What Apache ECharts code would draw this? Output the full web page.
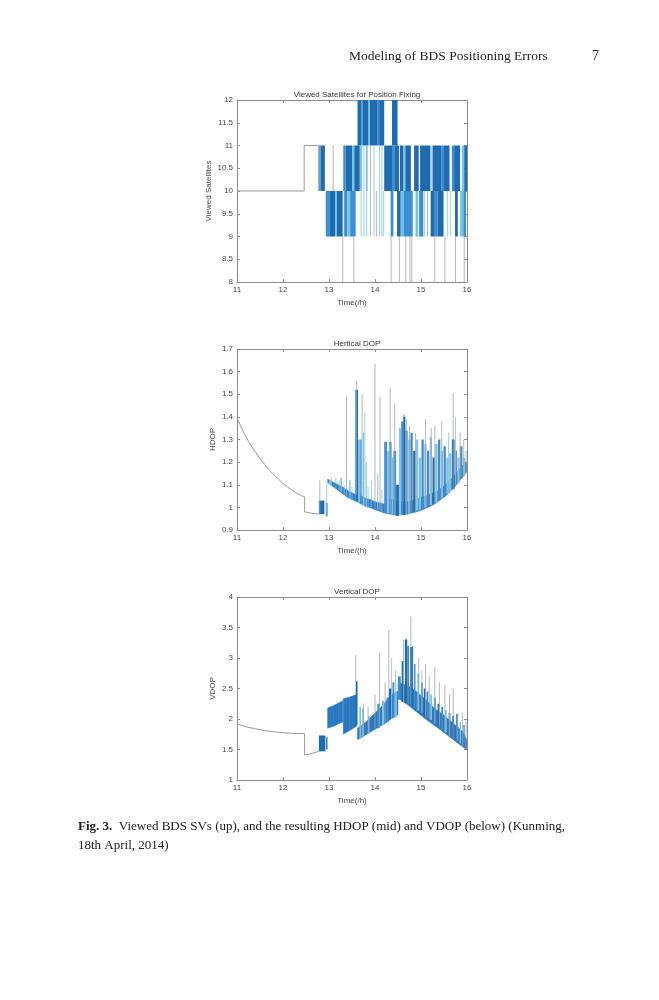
<!DOCTYPE html>
<html>
<head>
<meta charset="utf-8">
<title>Viewed BDS SVs, HDOP and VDOP</title>
<script src="https://cdn.jsdelivr.net/npm/echarts@6/dist/echarts.min.js"></script>
<style>
  html, body { margin: 0; padding: 0; background: #fff; }
  #chart { width: 659px; height: 1000px; }
</style>
</head>
<body>
<div id="chart"></div>
<script>
// tick labels
const timeTicks = [11, 12, 13, 14, 15, 16];
const satTicks = [8, 8.5, 9, 9.5, 10, 10.5, 11, 11.5, 12];
const hdopTicks = [0.9, 1, 1.1, 1.2, 1.3, 1.4, 1.5, 1.6, 1.7];
const vdopTicks = [1, 1.5, 2, 2.5, 3, 3.5, 4];

// shades: 0 dark blue, 1 blue, 2 light cyan, 3 pale blue, 4 grey
const shades = ['#1f6bb0', '#3a8ed2', '#74c5e4', '#8fbfe3', '#a3a3a3'];

// ---- viewed satellites ----
// grey step line before the blue part [time, count]
const satBase = [[11, 10], [12.46, 10], [12.46, 11], [12.77, 11]];
// blocks [t0, t1, low, high, shade]
const satBlocks = [
  [13.62, 13.70, 11, 12, 0], [13.70, 13.73, 11, 12, 1], [13.73, 13.86, 11, 12, 0],
  [13.86, 13.89, 11, 12, 2], [13.89, 14.06, 11, 12, 0], [14.06, 14.09, 11, 12, 1],
  [14.09, 14.20, 11, 12, 0], [14.37, 14.49, 11, 12, 0],
  [12.77, 12.82, 10, 11, 1], [12.82, 12.91, 10, 11, 0],
  [13.31, 13.36, 10, 11, 1], [13.36, 13.50, 10, 11, 0], [13.50, 13.55, 10, 11, 2],
  [13.55, 13.67, 10, 11, 0], [13.67, 13.72, 10, 11, 3], [13.80, 13.84, 10, 11, 3],
  [14.20, 14.37, 10, 11, 0], [14.37, 14.42, 10, 11, 1], [14.42, 14.52, 10, 11, 0],
  [14.54, 14.62, 10, 11, 0], [14.62, 14.66, 10, 11, 2], [14.66, 14.78, 10, 11, 0],
  [14.85, 14.95, 10, 11, 0], [14.98, 15.20, 10, 11, 0], [15.20, 15.23, 10, 11, 2],
  [15.25, 15.45, 10, 11, 0], [15.45, 15.50, 10, 11, 1], [15.50, 15.62, 10, 11, 0],
  [15.67, 15.72, 10, 11, 1], [15.72, 15.85, 10, 11, 0], [15.89, 15.94, 10, 11, 2],
  [15.94, 16.00, 10, 11, 0],
  [12.93, 13.02, 9, 10, 1], [13.02, 13.13, 9, 10, 0], [13.13, 13.17, 9, 10, 2],
  [13.17, 13.30, 9, 10, 0], [13.33, 13.40, 9, 10, 1], [13.40, 13.46, 9, 10, 2],
  [13.46, 13.58, 9, 10, 1], [14.34, 14.40, 9, 10, 1], [14.48, 14.56, 9, 10, 0],
  [14.56, 14.62, 9, 10, 2], [14.62, 14.82, 9, 10, 1], [14.88, 14.94, 9, 10, 2],
  [14.96, 15.05, 9, 10, 1], [15.21, 15.30, 9, 10, 0], [15.30, 15.36, 9, 10, 1],
  [15.36, 15.49, 9, 10, 0], [15.74, 15.80, 9, 10, 0], [15.85, 15.92, 9, 10, 2],
  [15.92, 15.98, 9, 10, 1]
];
// thin lines [t, low, high, shade]
const satSpikes = [
  [12.80, 10, 11, 4], [13.09, 10, 11, 4], [13.30, 8, 10, 4], [13.54, 8, 9, 4],
  [13.70, 9, 11, 2], [13.76, 9, 11, 3], [13.82, 9, 11, 2], [13.90, 9, 11, 4],
  [13.98, 9, 11, 3], [14.03, 9, 10, 4], [14.10, 9, 11, 2], [14.15, 9, 11, 3],
  [14.19, 9, 10, 2], [14.35, 8, 9, 4], [14.53, 8, 9, 4], [14.67, 8, 9, 4],
  [14.76, 8, 9, 4], [14.80, 8, 9, 4], [15.08, 9, 10, 3], [15.14, 9, 10, 4],
  [15.30, 8, 9, 4], [15.52, 8, 9, 4], [15.58, 9, 10, 2], [15.64, 9, 10, 3],
  [15.75, 8, 9, 4], [15.94, 8, 9, 4]
];

// ---- HDOP ----
const hdopBase = [
  [11.0, 1.395], [11.1, 1.35], [11.2, 1.31], [11.3, 1.275], [11.4, 1.245],
  [11.5, 1.215], [11.6, 1.19], [11.7, 1.165], [11.8, 1.145], [11.9, 1.125],
  [12.0, 1.105], [12.1, 1.09], [12.2, 1.075], [12.3, 1.062], [12.4, 1.052],
  [12.47, 1.047], [12.47, 0.98], [12.6, 0.975], [12.78, 0.97]
];
// dense band [t, low, high, segment]
const hdopBand = [
  [12.97, 1.11, 1.125, 0], [13.1, 1.09, 1.11, 0], [13.2, 1.075, 1.10, 0],
  [13.3, 1.06, 1.09, 0], [13.4, 1.045, 1.075, 0], [13.5, 1.035, 1.065, 0],
  [13.6, 1.025, 1.055, 0], [13.7, 1.015, 1.05, 0], [13.8, 1.005, 1.04, 0],
  [13.9, 0.998, 1.035, 0], [14.0, 0.99, 1.025, 0], [14.1, 0.983, 1.02, 0],
  [14.2, 0.975, 1.015, 0], [14.3, 0.972, 1.035, 0], [14.4, 0.968, 1.035, 0],
  [14.5, 0.966, 1.025, 0], [14.6, 0.968, 1.025, 0], [14.7, 0.97, 1.025, 0],
  [14.8, 0.975, 1.03, 0], [14.9, 0.98, 1.035, 0], [15.0, 0.987, 1.045, 0],
  [15.1, 0.995, 1.05, 0], [15.2, 1.005, 1.06, 0], [15.3, 1.015, 1.065, 0],
  [15.4, 1.03, 1.08, 0], [15.5, 1.045, 1.095, 0], [15.6, 1.062, 1.115, 0],
  [15.7, 1.085, 1.135, 0], [15.8, 1.108, 1.16, 0], [15.9, 1.132, 1.185, 0],
  [16.0, 1.16, 1.2, 0]
];
const hdopBlocks = [
  [12.78, 12.90, 0.97, 1.03, 0], [12.93, 12.97, 0.96, 1.02, 1],
  [13.00, 13.05, 1.10, 1.12, 2], [13.25, 13.28, 1.07, 1.13, 2], [13.44, 13.47, 1.04, 1.12, 2],
  [13.57, 13.60, 1.03, 1.52, 1], [13.60, 13.63, 1.03, 1.52, 0], [13.63, 13.68, 1.02, 1.30, 2],
  [13.68, 13.71, 1.02, 1.30, 1], [13.74, 13.76, 1.01, 1.33, 2], [13.80, 13.82, 1.00, 1.20, 3],
  [14.05, 14.07, 0.99, 1.15, 3],
  [14.20, 14.26, 0.975, 1.29, 1], [14.26, 14.31, 0.975, 1.25, 3], [14.31, 14.36, 0.97, 1.29, 1],
  [14.36, 14.40, 0.97, 1.22, 2], [14.40, 14.46, 0.965, 1.25, 1], [14.46, 14.52, 0.962, 1.10, 0],
  [14.52, 14.57, 0.966, 1.35, 3], [14.57, 14.62, 0.968, 1.38, 1], [14.62, 14.66, 0.968, 1.40, 0],
  [14.66, 14.71, 0.97, 1.34, 1], [14.72, 14.77, 0.972, 1.30, 3], [14.77, 14.82, 0.975, 1.33, 1],
  [14.83, 14.88, 0.98, 1.25, 0], [14.89, 14.94, 0.985, 1.30, 3], [14.95, 15.00, 0.99, 1.22, 2],
  [15.01, 15.06, 0.995, 1.30, 1], [15.07, 15.12, 1.00, 1.28, 3], [15.13, 15.18, 1.005, 1.25, 1],
  [15.19, 15.24, 1.01, 1.31, 3], [15.25, 15.30, 1.015, 1.22, 0], [15.31, 15.36, 1.02, 1.28, 2],
  [15.37, 15.42, 1.03, 1.30, 1], [15.43, 15.48, 1.04, 1.25, 3], [15.49, 15.54, 1.05, 1.27, 1],
  [15.55, 15.60, 1.06, 1.22, 2], [15.61, 15.66, 1.07, 1.24, 3], [15.67, 15.73, 1.08, 1.30, 0],
  [15.74, 15.78, 1.10, 1.25, 1], [15.79, 15.84, 1.11, 1.22, 3], [15.85, 15.90, 1.13, 1.27, 1],
  [15.91, 15.96, 1.14, 1.22, 2]
];
const hdopSpikes = [
  [12.80, 0.97, 1.12, 4], [12.95, 0.96, 1.11, 3], [13.05, 1.10, 1.13, 3], [13.15, 1.085, 1.13, 4],
  [13.22, 1.075, 1.12, 2], [13.33, 1.055, 1.10, 3], [13.38, 1.05, 1.49, 4], [13.50, 1.035, 1.09, 2],
  [13.60, 1.52, 1.56, 4], [13.72, 1.01, 1.50, 4], [13.78, 1.01, 1.42, 2], [13.85, 1.00, 1.09, 3],
  [13.92, 1.00, 1.12, 2], [14.00, 0.99, 1.635, 4], [14.11, 0.98, 1.49, 4], [14.15, 0.98, 1.08, 3],
  [14.33, 0.97, 1.53, 4], [14.43, 0.965, 1.46, 4], [14.63, 0.968, 1.41, 0],
  [14.68, 0.97, 1.39, 4], [14.75, 0.972, 1.36, 4], [14.88, 0.98, 1.33, 4], [15.10, 0.995, 1.39, 4],
  [15.22, 1.01, 1.35, 4], [15.30, 1.015, 1.36, 4], [15.45, 1.04, 1.38, 4], [15.60, 1.06, 1.33, 2],
  [15.70, 1.08, 1.505, 4], [15.75, 1.10, 1.40, 3], [15.85, 1.12, 1.33, 4], [15.93, 1.14, 1.30, 4],
  [15.98, 1.15, 1.25, 4]
];

// ---- VDOP ----
const vdopBase = [
  [11.0, 1.92], [11.2, 1.87], [11.4, 1.84], [11.6, 1.81], [11.8, 1.79], [12.0, 1.775],
  [12.2, 1.765], [12.47, 1.76], [12.47, 1.41], [12.6, 1.43], [12.78, 1.47]
];
const vdopBand = [
  [12.97, 1.85, 2.18, 1], [13.1, 1.88, 2.22, 1], [13.2, 1.92, 2.26, 1], [13.3, 1.95, 2.30, 1],
  [13.31, 1.75, 2.33, 2], [13.45, 1.81, 2.36, 2], [13.6, 1.88, 2.40, 2],
  [13.62, 1.66, 1.85, 3], [13.8, 1.74, 1.95, 3], [14.0, 1.83, 2.10, 3], [14.2, 1.92, 2.25, 3],
  [14.35, 2.0, 2.40, 3], [14.5, 2.07, 2.45, 3],
  [14.5, 2.34, 2.60, 4], [14.7, 2.24, 2.55, 4], [14.9, 2.12, 2.45, 4], [15.1, 2.0, 2.32, 4],
  [15.3, 1.89, 2.17, 4], [15.5, 1.78, 2.06, 4], [15.7, 1.66, 1.93, 4], [15.9, 1.55, 1.80, 4],
  [16.0, 1.49, 1.65, 4]
];
const vdopBlocks = [
  [12.78, 12.92, 1.47, 1.73, 0], [12.93, 12.97, 1.50, 1.70, 1], [13.58, 13.62, 1.90, 2.62, 0],
  [13.66, 13.70, 1.68, 2.20, 2], [13.72, 13.76, 1.71, 2.18, 3], [13.85, 13.88, 1.76, 2.05, 2],
  [14.05, 14.10, 1.85, 2.25, 1], [14.15, 14.20, 1.90, 2.30, 2], [14.25, 14.30, 1.95, 2.35, 1],
  [14.30, 14.36, 2.00, 2.50, 0], [14.38, 14.42, 2.02, 2.60, 1], [14.42, 14.48, 2.04, 2.45, 2],
  [14.50, 14.56, 2.32, 2.70, 1], [14.58, 14.62, 2.28, 2.95, 0], [14.65, 14.70, 2.26, 3.30, 0],
  [14.70, 14.74, 2.25, 3.20, 1], [14.76, 14.82, 2.22, 3.18, 0], [14.85, 14.88, 2.18, 2.90, 1],
  [14.92, 14.96, 2.14, 2.75, 2], [15.00, 15.04, 2.10, 2.60, 1], [15.06, 15.10, 2.05, 2.50, 0],
  [15.12, 15.16, 2.02, 2.45, 1], [15.20, 15.24, 1.98, 2.40, 2], [15.28, 15.32, 1.93, 2.35, 1],
  [15.36, 15.40, 1.88, 2.25, 0], [15.44, 15.48, 1.82, 2.20, 1], [15.52, 15.56, 1.78, 2.15, 2],
  [15.60, 15.64, 1.73, 2.10, 1], [15.68, 15.72, 1.69, 2.05, 0], [15.76, 15.80, 1.64, 2.08, 1],
  [15.84, 15.87, 1.60, 1.95, 2], [15.92, 15.95, 1.55, 1.90, 1]
];
const vdopSpikes = [
  [13.58, 2.62, 3.05, 4], [13.75, 1.72, 2.25, 4], [13.85, 1.76, 2.20, 4], [14.00, 1.83, 2.40, 4],
  [14.10, 1.87, 3.08, 4], [14.22, 1.94, 2.60, 4], [14.30, 2.50, 3.46, 4], [14.36, 2.00, 3.00, 3],
  [14.45, 2.05, 2.80, 4], [14.62, 2.28, 3.30, 4], [14.68, 2.26, 3.32, 0], [14.78, 2.22, 3.68, 4],
  [14.82, 2.22, 3.20, 0], [14.95, 2.15, 3.00, 4], [15.02, 2.10, 2.80, 3], [15.10, 2.05, 2.90, 4],
  [15.18, 2.00, 2.70, 4], [15.30, 1.92, 2.85, 4], [15.40, 1.88, 2.60, 4], [15.52, 1.78, 2.55, 4],
  [15.62, 1.72, 2.40, 4], [15.70, 1.67, 2.50, 4], [15.80, 1.64, 2.10, 4], [15.90, 1.55, 2.10, 4],
  [15.98, 1.50, 1.95, 4]
];

const FONT = 'Liberation Sans, Arial, sans-serif';
const SERIF = 'Liberation Serif, Times New Roman, serif';
const AXIS_GREY = '#8c8c8c';

const panels = [
  { top: 100, height: 182, ticks: satTicks, yName: 'Viewed Satellites', xName: 'Time(/h)',
    title: 'Viewed Satellites for Position Fixing', nameGap: 24 },
  { top: 349, height: 181, ticks: hdopTicks, yName: 'HDOP', xName: 'Time/(h)',
    title: 'Hertical DOP', nameGap: 20 },
  { top: 597, height: 183, ticks: vdopTicks, yName: 'VDOP', xName: 'Time(/h)',
    title: 'Vertical DOP', nameGap: 20 }
];

const grids = [];
const xAxes = [];
const yAxes = [];
const titles = [];

panels.forEach((p, i) => {
  grids.push({ left: 237, width: 230, top: p.top, height: p.height, containLabel: false });

  const xBase = {
    gridIndex: i, type: 'value',
    min: timeTicks[0], max: timeTicks[timeTicks.length - 1], interval: timeTicks[1] - timeTicks[0],
    splitLine: { show: false },
    axisLine: { show: true, lineStyle: { color: AXIS_GREY, width: 1 } },
    axisTick: { show: true, inside: true, length: 3, lineStyle: { color: AXIS_GREY } }
  };
  xAxes.push(Object.assign({}, xBase, {
    position: 'bottom',
    name: p.xName, nameLocation: 'middle', nameGap: 17,
    nameTextStyle: { fontFamily: FONT, fontSize: 8, color: '#444' },
    axisLabel: { fontFamily: FONT, fontSize: 8, color: '#444', margin: 4 }
  }));
  xAxes.push(Object.assign({}, xBase, { position: 'top', axisLabel: { show: false } }));

  const yBase = {
    gridIndex: i, type: 'value',
    min: p.ticks[0], max: p.ticks[p.ticks.length - 1],
    interval: Math.round((p.ticks[1] - p.ticks[0]) * 1000) / 1000,
    splitLine: { show: false },
    axisLine: { show: true, lineStyle: { color: AXIS_GREY, width: 1 } },
    axisTick: { show: true, inside: true, length: 3, lineStyle: { color: AXIS_GREY } }
  };
  yAxes.push(Object.assign({}, yBase, {
    position: 'left',
    name: p.yName, nameLocation: 'middle', nameGap: p.nameGap, nameRotate: 90,
    nameTextStyle: { fontFamily: FONT, fontSize: 8, color: '#444' },
    axisLabel: { fontFamily: FONT, fontSize: 8, color: '#444', margin: 4 }
  }));
  yAxes.push(Object.assign({}, yBase, { position: 'right', axisLabel: { show: false } }));

  titles.push({
    text: p.title, left: 352, top: p.top - 14, textAlign: 'center',
    textStyle: { fontFamily: FONT, fontSize: 8, fontWeight: 'normal', color: '#333' }
  });
});

function rectItem(params, api) {
  const a = api.coord([api.value(0), api.value(3)]);
  const b = api.coord([api.value(1), api.value(2)]);
  return {
    type: 'rect',
    shape: { x: a[0], y: a[1], width: Math.max(b[0] - a[0], 1), height: b[1] - a[1] },
    style: { fill: shades[api.value(4)] }
  };
}

function spikeItem(params, api) {
  const a = api.coord([api.value(0), api.value(1)]);
  const b = api.coord([api.value(0), api.value(2)]);
  return {
    type: 'line',
    shape: { x1: a[0], y1: a[1], x2: b[0], y2: b[1] },
    style: { stroke: shades[api.value(3)], lineWidth: 0.8 }
  };
}

function bandRenderer(band, fill) {
  return function (params, api) {
    const d = band[params.dataIndex];
    const n = band[params.dataIndex + 1];
    if (!n || n[3] !== d[3]) return null;
    const pts = [
      api.coord([d[0], d[1]]), api.coord([n[0], n[1]]),
      api.coord([n[0], n[2]]), api.coord([d[0], d[2]])
    ];
    return { type: 'polygon', shape: { points: pts }, style: { fill: fill, stroke: fill, lineWidth: 0.5 } };
  };
}

function baseLine(i, data) {
  return {
    type: 'line', xAxisIndex: i * 2, yAxisIndex: i * 2, data: data,
    showSymbol: false, silent: true,
    lineStyle: { color: '#9a9a9a', width: 1 }
  };
}

function blocks(i, data) {
  return {
    type: 'custom', xAxisIndex: i * 2, yAxisIndex: i * 2, data: data, clip: true,
    encode: { x: [0, 1], y: [2, 3] }, renderItem: rectItem
  };
}

function spikes(i, data) {
  return {
    type: 'custom', xAxisIndex: i * 2, yAxisIndex: i * 2, data: data, clip: true,
    encode: { x: 0, y: [1, 2] }, renderItem: spikeItem
  };
}

function band(i, data, fill) {
  return {
    type: 'custom', xAxisIndex: i * 2, yAxisIndex: i * 2, data: data, clip: true,
    encode: { x: 0, y: [1, 2] }, renderItem: bandRenderer(data, fill)
  };
}

const chart = echarts.init(document.getElementById('chart'), null, { renderer: 'canvas' });

chart.setOption({
  backgroundColor: '#fff',
  animation: false,
  title: titles,
  grid: grids,
  xAxis: xAxes,
  yAxis: yAxes,
  series: [
    baseLine(0, satBase), blocks(0, satBlocks), spikes(0, satSpikes),
    baseLine(1, hdopBase), band(1, hdopBand, '#2f7fc6'), blocks(1, hdopBlocks), spikes(1, hdopSpikes),
    baseLine(2, vdopBase), band(2, vdopBand, '#2a78c0'), blocks(2, vdopBlocks), spikes(2, vdopSpikes)
  ],
  graphic: [
    {
      type: 'text', left: 349, top: 49,
      style: { text: 'Modeling of BDS Positioning Errors', font: '13.5px ' + SERIF, fill: '#222' }
    },
    {
      type: 'text', left: 592, top: 49,
      style: { text: '7', font: '14px ' + SERIF, fill: '#222' }
    },
    {
      type: 'text', left: 78, top: 817,
      style: {
        text: '{b|Fig. 3.}  Viewed BDS SVs (up), and the resulting HDOP (mid) and VDOP (below) (Kunming,\n18th April, 2014)',
        font: '13px ' + SERIF, fill: '#222', lineHeight: 19,
        rich: {
          b: { fontFamily: SERIF, fontSize: 13, fontWeight: 'bold', fill: '#222' }
        }
      }
    }
  ]
});
</script>
</body>
</html>
